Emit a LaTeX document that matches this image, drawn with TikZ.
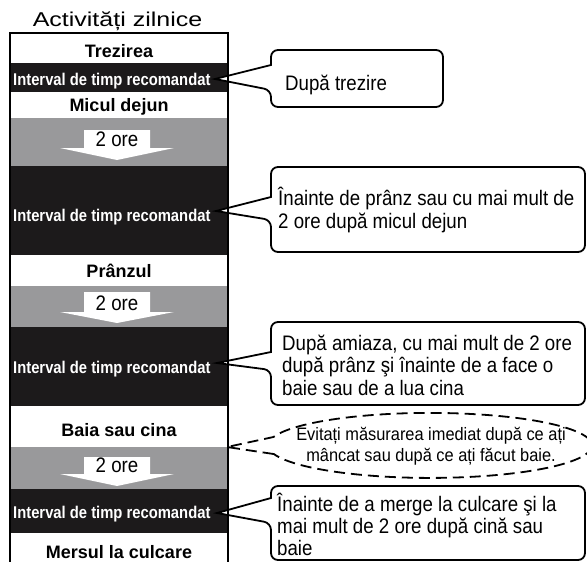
\documentclass[tikz,border=0pt]{standalone}
\usepackage{fontspec}
\setmainfont{Liberation Sans}
\newfontfamily\titlefont[FakeStretch=1.25]{Liberation Sans}
\newfontfamily\condfont[FakeStretch=0.89]{Liberation Sans}
\newfontfamily\notefont[FakeStretch=0.91]{Liberation Sans}
\newfontfamily\narrowfont[FakeStretch=0.87]{Liberation Sans}
\definecolor{rowblack}{RGB}{28,26,27}
\definecolor{rowgray}{RGB}{153,153,155}
\tikzset{
  lab/.style={font=\fontsize{18}{21}\selectfont\bfseries, anchor=base, inner sep=0pt},
  intv/.style={font=\narrowfont\fontsize{17}{20}\selectfont\bfseries, text=white, anchor=base west, inner sep=0pt},
  oretext/.style={font=\condfont\fontsize{21}{22}\selectfont, anchor=base, inner sep=0pt},
  calltext/.style={font=\condfont\fontsize{21}{22.5}\selectfont, align=left, anchor=base west, inner sep=0pt},
  bubble/.style={draw=black, fill=white, line width=1.8pt},
  notetext/.style={font=\notefont\fontsize{18}{20.5}\selectfont, align=center, anchor=base, inner sep=0pt},
  dashline/.style={draw=black, line width=1.8pt, dash pattern=on 11pt off 6pt},
  blockarrow/.style={fill=white},
  frameline/.style={draw=black, line width=1.6pt},
}
\begin{document}
\begin{tikzpicture}[x=1pt,y=-1pt]
\useasboundingbox (0,0) rectangle (587,562);
\clip (0,0) rectangle (587,562);
\fill[white] (0,0) rectangle (587,562);

% title
\node[font=\titlefont\fontsize{20}{24}\selectfont, anchor=base, inner sep=0pt] (title) at (117.5,27) {Activități zilnice};

% rows
\fill[white]    (10,33)  rectangle (228,63);
\fill[rowblack] (10,63)  rectangle (228,92);
\fill[white]    (10,92)  rectangle (228,118);
\fill[rowgray]  (10,118) rectangle (228,166);
\fill[rowblack] (10,166) rectangle (228,255);
\fill[white]    (10,255) rectangle (228,286);
\fill[rowgray]  (10,286) rectangle (228,327);
\fill[rowblack] (10,327) rectangle (228,406);
\fill[white]    (10,406) rectangle (228,447);
\fill[rowgray]  (10,447) rectangle (228,489);
\fill[rowblack] (10,489) rectangle (228,533);
\fill[white]    (10,533) rectangle (228,570);

% block arrows
\fill[blockarrow] (84,130) -- (150,130) -- (150,148) -- (174,148) -- (117,160) -- (60,148) -- (84,148) -- cycle;
\fill[blockarrow] (84,292) -- (150,292) -- (150,312) -- (174,312) -- (117,323) -- (60,312) -- (84,312) -- cycle;
\fill[blockarrow] (84,457) -- (150,457) -- (150,474) -- (174,474) -- (117,486) -- (60,474) -- (84,474) -- cycle;
\node[oretext] (o1) at (117,146.5) {2 ore};
\node[oretext] (o2) at (117,310) {2 ore};
\node[oretext] (o3) at (117,472.5) {2 ore};

% labels
\node[lab] (trez) at (119,57) {Trezirea};
\node[lab] (mic) at (119,111.7) {Micul dejun};
\node[lab] (pranz) at (119,277.5) {Prânzul};
\node[lab] (baia) at (119,436) {Baia sau cina};
\node[lab] (mers) at (119,558.5) {Mersul la culcare};

\node[intv] (i1) at (13,85) {Interval de timp recomandat};
\node[intv] (i2) at (13,221.7) {Interval de timp recomandat};
\node[intv] (i3) at (13,373.3) {Interval de timp recomandat};
\node[intv] (i4) at (13,518) {Interval de timp recomandat};

% callout tips
\coordinate (t1) at (215,79);
\coordinate (t2) at (216,211);
\coordinate (t3) at (217,363);
\coordinate (t5) at (217,513);

% callouts
\draw[bubble] (t1) -- (271,65) [rounded corners=7pt] -- (271,50) -- (443,50) -- (443,107) -- (271,107) -- (271,90) [sharp corners] -- cycle;
\draw[bubble] (t2) -- (271,197) [rounded corners=7pt] -- (271,167) -- (585,167) -- (585,252) -- (271,252) -- (271,220) [sharp corners] -- cycle;
\draw[bubble] (t3) -- (271,352) [rounded corners=7pt] -- (271,322) -- (585,322) -- (585,405) -- (271,405) -- (271,370) [sharp corners] -- cycle;
\draw[bubble] (t5) -- (271,498) [rounded corners=7pt] -- (271,486) -- (585,486) -- (585,560) -- (271,560) -- (271,523) [sharp corners] -- cycle;

\node[calltext] (c1) at (285,90) {După trezire};
\node[calltext, font=\condfont\fontsize{21}{23}\selectfont] (c2) at (278,228.3) {Înainte de prânz sau cu mai mult de\\2 ore după micul dejun};
\node[calltext, font=\condfont\fontsize{21}{22.5}\selectfont] (c3) at (282,395) {După amiaza, cu mai mult de 2 ore\\după prânz şi înainte de a face o\\baie sau de a lua cina};
\node[calltext, font=\condfont\fontsize{21}{21.7}\selectfont] (c5) at (277,555) {Înainte de a merge la culcare şi la\\mai mult de 2 ore după cină sau\\baie};

% dashed note
\coordinate (t4) at (227,447);
\coordinate (e1) at (273.5,437);
\coordinate (e2) at (273.5,454);
\draw[dashline] (e2) -- (t4) -- (e1) arc[start angle=165, end angle=-165, x radius=162pt, y radius=32.5pt];
\node[notetext] (note) at (431,461) {Evitați măsurarea imediat după ce ați\\mâncat sau după ce ați făcut baie.};

% frame
\draw[frameline] (10,570) -- (10,33) -- (228,33) -- (228,570);
\end{tikzpicture}
\end{document}
